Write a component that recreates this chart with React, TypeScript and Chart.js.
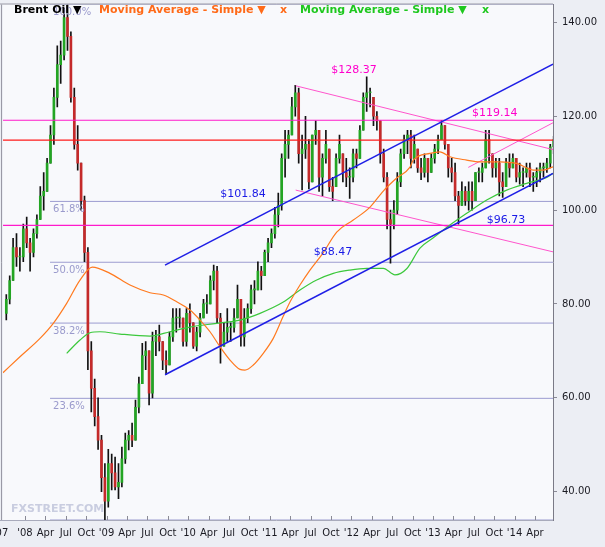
import React, { useEffect, useRef } from "react";
import { Chart, registerables } from "chart.js";
Chart.register(...registerables);

const W = 605;
const H = 547;

// Time axis: months since Jan 2008. Candles are half-month periods starting Oct 2007.
const FIRST_MONTH = -3;
const FIRST_OPEN = 78;
const XMIN = -3.235;
const XMAX = 77.65;
const YMIN = 33.97;
const YMAX = 143.8;

// Brent Oil half-month candles: highs / lows / closes (Oct 2007 .. Jun 2014)
const highs = [
  82, 86, 94, 95, 92, 97, 98.5, 94, 96, 99, 105, 108, 111, 118, 126, 135, 136, 143, 143.8, 138,
  126, 118, 110, 103, 92, 72, 64, 60, 52, 46, 49, 48, 47.4, 46, 49.5, 52.5, 53, 54.6, 59.5, 64.4,
  71.6, 72, 70, 74, 74.4, 75.5, 72, 70, 74, 79, 79, 79, 77, 79, 80, 76, 75, 78, 81, 82,
  86, 88.3, 88, 78, 76, 79, 76, 79, 84, 81, 79, 80, 84, 85, 89, 88, 91.5, 94, 96, 100.6,
  103.6, 112, 117, 117, 124, 126.6, 126, 116, 120, 115, 116, 119, 117, 112, 117, 113, 107, 112, 116, 112,
  111, 109, 113, 113, 118, 125, 128.4, 126, 124, 121, 119, 113, 108, 100, 102, 108, 113, 116, 117, 117,
  116, 113, 111, 112, 111, 112, 114, 116, 119.14, 118, 114, 111, 110, 104, 106, 105, 106, 106, 108, 109,
  110, 117, 117, 112, 111, 111, 108, 111, 112, 112, 111, 110, 109, 110, 110, 108, 109, 110, 110, 111,
  114, 115.7,
];
const lows = [
  76.6, 80, 85, 88, 87, 89, 92, 87, 90, 94, 98, 100, 104, 110, 114, 122, 127, 132, 134, 123,
  113, 108.5, 100, 89, 66, 57, 54, 49, 40, 33.97, 36.7, 40.4, 40.4, 38.5, 41, 46, 48.9, 49.6, 51, 56.8,
  63, 66, 58.5, 60, 69, 70, 66, 65, 67, 72, 74, 75, 71, 71, 74, 70.5, 70, 73, 77, 78,
  80, 83, 76, 67.4, 71, 72, 72, 74, 77, 71, 71, 76, 78, 80, 83, 83, 86, 89, 92, 94,
  96.4, 100, 107, 111, 116, 120, 110, 104.3, 111, 104.5, 106, 114, 104, 103, 110, 104, 102, 105, 110, 106,
  105, 102.5, 106, 109, 111, 117, 121, 122, 118, 117, 110, 106, 96, 88.7, 96, 99, 105, 111, 112, 109,
  110, 108, 106.5, 107, 106, 108, 110, 112, 115, 113, 107, 106, 102, 97, 101, 101, 100, 100, 102, 106,
  106, 109, 110, 107, 107, 103, 102.7, 105, 107, 109, 106, 105.5, 105, 107, 105, 104, 105, 106, 107, 108,
  109, 112,
];
const closes = [
  81, 85, 92, 90, 90, 96, 93, 91, 95, 98, 103, 104, 110, 116, 124, 131, 133, 141, 137, 124,
  114, 110, 102, 91, 70, 62, 56, 51, 43, 38, 46, 44, 41, 42, 47, 51, 52, 51, 58, 63,
  69, 70, 61, 72, 73, 72, 68, 67, 73, 77, 77, 77, 72, 78, 76, 71, 74, 77, 80, 80,
  85, 87, 77, 71, 74, 75, 75, 77, 81, 73, 77, 79, 83, 83, 87, 86, 91, 93, 95, 99,
  101, 111, 114, 116, 122, 125, 112, 113, 114, 106, 116, 117, 107, 111, 114, 105, 104, 111, 114, 108,
  107, 107, 112, 111, 117, 124, 125, 125, 120, 119, 112, 107, 98, 97, 100, 106, 112, 115, 116, 111,
  114, 109, 108, 111, 108, 111, 113, 115, 118, 114, 109, 108, 103, 101, 104, 102, 104, 102, 108, 108,
  109, 115, 112, 109, 110, 106, 105, 110, 109, 111, 107, 108, 108, 109, 107, 107, 108, 109, 109, 110,
  113.5, 115,
];

// Moving Average - Simple (orange)
const maFastMonths = [-3.24, -0.74, 2.21, 4.16, 6.13, 8.09, 9.9, 12.5, 15.44, 18.38, 20.34, 22.31, 24.26, 25.74, 27.21, 28.68, 30.15, 31.62, 32.35, 33.57, 35.04, 36.51, 37.99, 38.97, 40.44, 41.91, 43.82, 45.84, 48.28, 50.74, 52.69, 54.66, 56.62, 57.1, 59.56, 61.03, 62.5, 64.96, 66.91, 69.85, 72.31, 74.75, 76.22, 77.65];
const maFastValues = [65.35, 68.75, 72.67, 75.87, 80.13, 85.09, 87.85, 86.52, 84.03, 82.39, 81.9, 80.47, 78.7, 76.57, 74.08, 70.88, 68.05, 66.07, 65.92, 66.99, 69.48, 72.67, 77.42, 80.4, 84.03, 87.22, 90.84, 95.31, 97.87, 100.64, 104.05, 106.82, 109.16, 110.65, 112.08, 112.42, 111.35, 110.65, 110.29, 110.29, 109.95, 108.52, 108.52, 109.22];

// Moving Average - Simple (green)
const maSlowMonths = [6.13, 8.09, 9.56, 11.03, 13.97, 18.38, 21.32, 24.26, 28.19, 31.62, 34.56, 37.99, 40.44, 42.9, 45.34, 47.79, 50.25, 52.69, 54.41, 56.13, 58.09, 60.0, 62.5, 64.96, 67.9, 70.84, 73.78, 76.72, 77.65];
const maSlowValues = [69.48, 72.31, 73.87, 74.08, 73.59, 73.16, 74.08, 75.08, 75.87, 76.57, 78.0, 80.4, 82.96, 85.09, 86.52, 87.22, 87.58, 87.6, 86.2, 87.5, 91.9, 94.04, 96.81, 99.3, 102.13, 104.26, 105.69, 106.96, 107.82];

// Trend lines [month, value] pairs
const blueUpper = [[20.59, 88.29], [77.65, 131.1]];
const blueLower = [[20.59, 64.92], [77.65, 107.82]];
const pinkUpper = [[39.81, 126.48], [77.65, 112.89]];
const pinkLower = [[39.81, 104.26], [77.65, 91.1]];
const pinkShort = [[65.19, 109.09], [77.65, 118.6]];

// Horizontal levels
const redLevel = 114.9;
const magentaLevels = [119.14, 96.73];

// Fibonacci retracement
const FIB_LOW = 33.97;
const FIB_HIGH = 143.8;
const FIB_START = 3.68;
const fibRatios = [0, 23.6, 38.2, 50, 61.8, 100];
const fibLabels = ["", "23.6%", "38.2%", "50.0%", "61.8%", "100.0%"];

// Price annotations
const annoLabels = ["$128.37", "$119.14", "$101.84", "$88.47", "$96.73"];
const annoMonths = [48.38, 69.07, 32.06, 45.29, 70.74];
const annoValues = [129.82, 120.66, 103.4, 91.05, 97.83];
const annoColors = ["#ff00cc", "#ff00cc", "#1a1ae6", "#1a1ae6", "#1a1ae6"];

// X tick labels
const tickMonths = [-3.6, 0, 3, 6, 9, 12, 15, 18, 21, 24, 27, 30, 33, 36, 39, 42, 45, 48, 51, 54, 57, 60, 63, 66, 69, 72, 75];
const tickLabels = ["'07", "'08", "Apr", "Jul", "Oct", "'09", "Apr", "Jul", "Oct", "'10", "Apr", "Jul", "Oct", "'11", "Apr", "Jul", "Oct", "'12", "Apr", "Jul", "Oct", "'13", "Apr", "Jul", "Oct", "'14", "Apr"];

const GREEN = "#23a523";
const RED = "#c42a2a";
const FONT = '"DejaVu Sans", Verdana, sans-serif';

export default function App() {
  const ref = useRef<HTMLCanvasElement>(null);

  useEffect(() => {
    const canvas = ref.current;
    if (!canvas) return;

    const times = highs.map((_, i) => FIRST_MONTH + i * 0.5 + 0.25);
    const opens = closes.map((c, i) => (i === 0 ? FIRST_OPEN : closes[i - 1]));
    const wickData = times.map((t, i) => ({ x: t, y: [lows[i], highs[i]] }));
    const bodyData = times.map((t, i) => {
      const lo = Math.max(Math.min(opens[i], closes[i]), lows[i]);
      const hi = Math.min(Math.max(opens[i], closes[i]), highs[i]);
      return { x: t, y: [lo, hi] };
    });
    const bodyColors = closes.map((c, i) => (c >= opens[i] ? GREEN : RED));

    const seg = (pts: number[][]) => pts.map((p) => ({ x: p[0], y: p[1] }));
    const hline = (v: number, x0 = XMIN) => [{ x: x0, y: v }, { x: XMAX, y: v }];
    const line = (data: any, color: string, width: number, order: number, extra: any = {}) => ({
      type: "line",
      data,
      borderColor: color,
      borderWidth: width,
      pointRadius: 0,
      fill: false,
      tension: 0,
      order,
      ...extra,
    });

    const fibValue = (r: number) => FIB_LOW + ((FIB_HIGH - FIB_LOW) * r) / 100;

    const datasets: any[] = [
      ...fibRatios.map((r) => line(hline(fibValue(r), FIB_START), "#9c9cd0", 1, 8)),
      {
        type: "bar",
        data: wickData,
        backgroundColor: "#111111",
        barThickness: 1,
        grouped: false,
        borderWidth: 0,
        order: 6,
      },
      {
        type: "bar",
        data: bodyData,
        backgroundColor: bodyColors,
        barThickness: 2,
        grouped: false,
        borderWidth: 0,
        minBarLength: 1,
        order: 5,
      },
      line(hline(redLevel), "#ff1a1a", 1.2, 2),
      ...magentaLevels.map((v) => line(hline(v), "#ff1acb", 1.2, 2)),
      line(seg(pinkUpper), "#ff55cc", 1, 2),
      line(seg(pinkLower), "#ff55cc", 1, 2),
      line(seg(pinkShort), "#ff55cc", 1, 2),
      line(
        maFastMonths.map((m, i) => ({ x: m, y: maFastValues[i] })),
        "#ff7a1f",
        1.2,
        1,
        { tension: 0.4, cubicInterpolationMode: "monotone" }
      ),
      line(
        maSlowMonths.map((m, i) => ({ x: m, y: maSlowValues[i] })),
        "#3cc83c",
        1.2,
        1,
        { tension: 0.4, cubicInterpolationMode: "monotone" }
      ),
      line(seg(blueUpper), "#1f1fe6", 1.5, 0),
      line(seg(blueLower), "#1f1fe6", 1.5, 0),
    ];

    const decor = {
      id: "decor",
      beforeDraw(chart: any) {
        const { ctx, chartArea: a } = chart;
        ctx.save();
        ctx.fillStyle = "#eceef4";
        ctx.fillRect(0, 0, W, H);
        ctx.fillStyle = "#f8f9fc";
        ctx.fillRect(a.left, a.top, a.right - a.left, a.bottom - a.top);
        ctx.font = `bold 11px ${FONT}`;
        ctx.fillStyle = "#c9cde0";
        ctx.textBaseline = "middle";
        ctx.textAlign = "left";
        ctx.fillText("FXSTREET.COM", 11, 509);
        ctx.restore();
      },
      afterDraw(chart: any) {
        const { ctx, chartArea: a, scales } = chart;
        const xs = scales.x;
        const ys = scales.y;
        ctx.save();
        // frame
        ctx.strokeStyle = "#9a9aa6";
        ctx.lineWidth = 1;
        ctx.beginPath();
        ctx.moveTo(1.5, a.top);
        ctx.lineTo(1.5, a.bottom);
        ctx.moveTo(0, 4);
        ctx.lineTo(a.right, 4);
        ctx.stroke();
        ctx.strokeStyle = "#a8aabb";
        ctx.beginPath();
        ctx.moveTo(0, a.bottom + 0.5);
        ctx.lineTo(a.right, a.bottom + 0.5);
        ctx.stroke();
        // x ticks & labels
        ctx.font = `10px ${FONT}`;
        ctx.fillStyle = "#1a1a22";
        ctx.textAlign = "center";
        ctx.textBaseline = "middle";
        ctx.strokeStyle = "#8a8a96";
        tickMonths.forEach((m, i) => {
          const px = xs.getPixelForValue(m);
          if (px > a.left && px < a.right) {
            ctx.beginPath();
            ctx.moveTo(Math.round(px) + 0.5, a.bottom);
            ctx.lineTo(Math.round(px) + 0.5, a.bottom - 4);
            ctx.stroke();
          }
          ctx.fillText(tickLabels[i], px, 533);
        });
        // fib labels
        ctx.fillStyle = "#9a9acc";
        ctx.textAlign = "left";
        ctx.font = `10px ${FONT}`;
        const fx = xs.getPixelForValue(FIB_START) + 3;
        fibRatios.forEach((r, i) => {
          if (!fibLabels[i]) return;
          ctx.fillText(fibLabels[i], fx, ys.getPixelForValue(fibValue(r)) + 8);
        });
        // price annotations
        ctx.font = `11px ${FONT}`;
        ctx.textAlign = "center";
        annoLabels.forEach((t, i) => {
          ctx.fillStyle = annoColors[i];
          ctx.fillText(t, xs.getPixelForValue(annoMonths[i]), ys.getPixelForValue(annoValues[i]));
        });
        // legend
        ctx.font = `bold 11px ${FONT}`;
        ctx.textAlign = "left";
        ctx.fillStyle = "#000000";
        ctx.fillText("Brent Oil \u25BC", 14, 10);
        ctx.fillStyle = "#ff6a18";
        ctx.fillText("Moving Average - Simple \u25BC", 99, 10);
        ctx.fillText("x", 280, 10);
        ctx.fillStyle = "#1ec81e";
        ctx.fillText("Moving Average - Simple \u25BC", 300, 10);
        ctx.fillText("x", 482, 10);
        ctx.restore();
      },
    };

    const chart = new Chart(canvas, {
      type: "line",
      data: { datasets },
      options: {
        responsive: false,
        animation: false,
        devicePixelRatio: 1,
        events: [],
        layout: { padding: { left: 3, top: 4.5, bottom: 27, right: 0 } },
        plugins: { legend: { display: false }, tooltip: { enabled: false } },
        scales: {
          x: { type: "linear", display: false, min: XMIN, max: XMAX, offset: false },
          y: {
            type: "linear",
            position: "right",
            min: YMIN,
            max: YMAX,
            afterFit: (s: any) => {
              s.width = 52;
              s.paddingTop = 0;
              s.paddingBottom = 0;
            },
            ticks: {
              stepSize: 20,
              includeBounds: false,
              padding: 5,
              color: "#1a1a22",
              font: { family: FONT, size: 10 },
              callback: (v: any) => Number(v).toFixed(2),
            },
            grid: { drawOnChartArea: false, drawTicks: true, tickLength: 4, color: "#8a8a96" },
            border: { display: true, color: "#7a7a86", width: 1 },
          },
        },
      } as any,
      plugins: [decor],
    });

    return () => chart.destroy();
  }, []);

  return (
    <div style={{ position: "absolute", left: 0, top: 0, width: W, height: H }}>
      <canvas ref={ref} width={W} height={H} style={{ display: "block", width: W, height: H }} />
    </div>
  );
}
